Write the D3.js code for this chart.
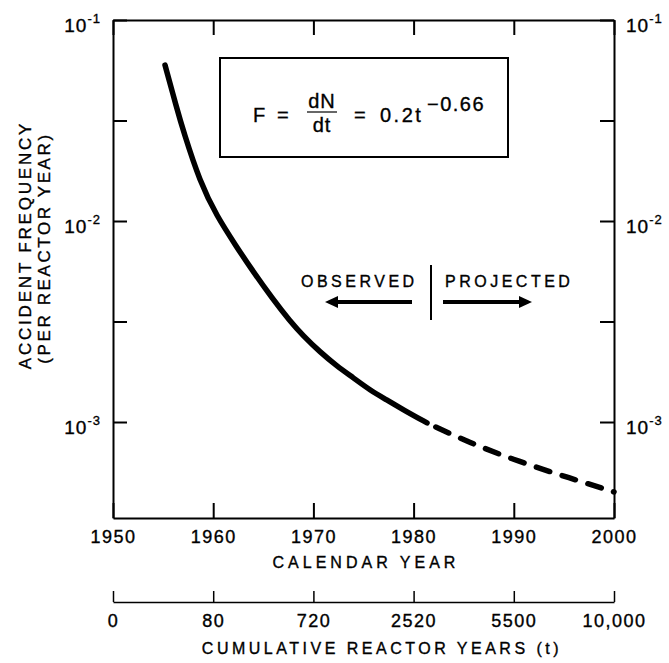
<!DOCTYPE html>
<html>
<head>
<meta charset="utf-8">
<script src="https://cdn.jsdelivr.net/npm/d3@7"></script>
<style>
body { margin: 0; background: #fff; }
text { font-family: "Liberation Sans", Arial, Helvetica, sans-serif; fill: #000; stroke: #000; stroke-width: 0.35px; }
</style>
</head>
<body>
<div id="chart"></div>
<script>
// values
var observedYears = [1955.19, 1956.36, 1957.02, 1958.68, 1960.35, 1962.35, 1963.67, 1966.0, 1967.66, 1968.99, 1970.66, 1972.33, 1973.98, 1975.65, 1977.32, 1978.97, 1981.34];
var observedFreq  = [0.0597, 0.0365, 0.0280, 0.01563, 0.01059, 0.00743, 0.00590, 0.00405, 0.00318, 0.00268, 0.00223, 0.00190, 0.00166, 0.00144, 0.00129, 0.00115, 0.00099];
var projectedYears = [1981.34, 1985.6, 1990.6, 1995.6, 2000];
var projectedFreq  = [0.00099, 0.000787, 0.000633, 0.000526, 0.000449];

var decadeYears = [1950, 1960, 1970, 1980, 1990, 2000];
var cumulativeLabels = ["0", "80", "720", "2520", "5500", "10,000"];
var freqTicks = [1e-1, Math.pow(10, -1.5), 1e-2, Math.pow(10, -2.5), 1e-3];

var margin = {top: 20, right: 55, bottom: 145, left: 113},
	width = 669 - margin.left - margin.right,
	height = 663 - margin.top - margin.bottom;

var svg = d3.select("#chart").append("svg")
	.attr("width", 669)
	.attr("height", 663);

var g = svg.append("g")
	.attr("transform", "translate(" + margin.left + "," + margin.top + ")");

var x = d3.scaleLinear()
	.domain([1950, 2000])
	.range([0, width]);

var y = d3.scaleLog()
	.domain([3.33e-4, 0.1])
	.range([height, 0]);

function styleAxis(sel, size, spacing) {
	sel.attr("font-size", null).attr("font-family", null);
	sel.select(".domain").attr("stroke-width", 2);
	sel.selectAll(".tick line").attr("stroke-width", 2);
	sel.selectAll(".tick text")
		.style("font-size", size + "px")
		.style("letter-spacing", spacing + "px");
}

// power-of-ten labels with a raised exponent
function powerLabel(sel) {
	sel.selectAll(".tick text").each(function(d) {
		var e = Math.log10(d);
		var t = d3.select(this).text("").attr("dy", "0.6em");
		if (Math.abs(e - Math.round(e)) > 1e-6) return;
		t.append("tspan").text("10");
		t.append("tspan").attr("dy", -9).style("font-size", "13px").text(String(Math.round(e)));
	});
}

// bottom calendar axis
g.append("g")
	.attr("transform", "translate(0," + height + ")")
	.call(d3.axisBottom(x).tickValues(decadeYears).tickSizeInner(-15).tickSizeOuter(0).tickPadding(12).tickFormat(d3.format("d")))
	.call(styleAxis, 18, 1.5);

// top frame
g.append("g")
	.call(d3.axisTop(x).tickValues(decadeYears).tickSizeInner(-15).tickSizeOuter(0).tickFormat(""))
	.call(styleAxis, 18, 0);

// left & right frequency axes
g.append("g")
	.call(d3.axisLeft(y).tickValues(freqTicks).tickSizeInner(-14).tickSizeOuter(0).tickPadding(12))
	.call(styleAxis, 19, 1)
	.call(powerLabel);

g.append("g")
	.attr("transform", "translate(" + width + ",0)")
	.call(d3.axisRight(y).tickValues(freqTicks).tickSizeInner(-14).tickSizeOuter(0).tickPadding(12))
	.call(styleAxis, 19, 1)
	.call(powerLabel);

// cumulative reactor years axis
g.append("g")
	.attr("transform", "translate(0," + (height + 84) + ")")
	.call(d3.axisBottom(x).tickValues(decadeYears).tickSizeInner(-11).tickSizeOuter(0).tickPadding(12)
		.tickFormat(function(d, i) { return cumulativeLabels[i]; }))
	.call(styleAxis, 18, 1.5)
	.call(function(s) { s.select(".domain").attr("stroke-width", 1.5); s.selectAll(".tick line").attr("stroke-width", 1.5); });

// axis titles
svg.append("text")
	.attr("x", 366).attr("y", 568)
	.attr("text-anchor", "middle")
	.style("font-size", "16px").style("letter-spacing", "4px")
	.text("CALENDAR YEAR");

svg.append("text")
	.attr("x", 382).attr("y", 654)
	.attr("text-anchor", "middle")
	.style("font-size", "16px").style("letter-spacing", "3.5px")
	.text("CUMULATIVE REACTOR YEARS (t)");

svg.append("text")
	.attr("transform", "translate(31,245) rotate(-90)")
	.attr("text-anchor", "middle")
	.style("font-size", "17px").style("letter-spacing", "2.8px")
	.text("ACCIDENT FREQUENCY");

svg.append("text")
	.attr("transform", "translate(50,248) rotate(-90)")
	.attr("text-anchor", "middle")
	.style("font-size", "17px").style("letter-spacing", "2.6px")
	.text("(PER REACTOR YEAR)");

// curve
var line = d3.line()
	.x(function(d) { return x(d[0]); })
	.y(function(d) { return y(d[1]); })
	.curve(d3.curveBasis);

g.append("path")
	.datum(d3.zip(observedYears, observedFreq))
	.attr("d", line)
	.attr("fill", "none")
	.attr("stroke", "#000")
	.attr("stroke-width", 5.5)
	.attr("stroke-linecap", "round");

g.append("path")
	.datum(d3.zip(projectedYears, projectedFreq))
	.attr("d", line)
	.attr("fill", "none")
	.attr("stroke", "#000")
	.attr("stroke-width", 5.5)
	.attr("stroke-linecap", "round")
	.attr("stroke-dasharray", "14 13")
	.attr("stroke-dashoffset", 17);

// equation box
svg.append("rect")
	.attr("x", 220).attr("y", 58)
	.attr("width", 288).attr("height", 99)
	.attr("fill", "none").attr("stroke", "#000").attr("stroke-width", 2);

var eq = svg.append("g").style("font-size", "20px");
eq.append("text").attr("x", 253).attr("y", 122).text("F");
eq.append("text").attr("x", 277).attr("y", 122).text("=");
eq.append("text").attr("x", 322).attr("y", 108).attr("text-anchor", "middle").style("letter-spacing", "1px").text("dN");
eq.append("line").attr("x1", 307).attr("x2", 337).attr("y1", 112).attr("y2", 112).attr("stroke", "#000").attr("stroke-width", 1.2);
eq.append("text").attr("x", 322).attr("y", 132).attr("text-anchor", "middle").style("letter-spacing", "1px").text("dt");
eq.append("text").attr("x", 354).attr("y", 122).text("=");
eq.append("text").attr("x", 380).attr("y", 122).style("letter-spacing", "2.5px").text("0.2t");
eq.append("text").attr("x", 427).attr("y", 111).style("letter-spacing", "1.5px").text("\u22120.66");

// observed / projected marker
svg.append("line")
	.attr("x1", 431).attr("x2", 431).attr("y1", 265).attr("y2", 320)
	.attr("stroke", "#000").attr("stroke-width", 2);

svg.append("text").attr("x", 301).attr("y", 287)
	.style("font-size", "16px").style("letter-spacing", "3.5px").text("OBSERVED");
svg.append("text").attr("x", 445).attr("y", 287)
	.style("font-size", "16px").style("letter-spacing", "3.5px").text("PROJECTED");

svg.append("line").attr("x1", 412).attr("x2", 334).attr("y1", 302).attr("y2", 302)
	.attr("stroke", "#000").attr("stroke-width", 4);
svg.append("polygon").attr("points", "325,302 338,296 338,308").attr("fill", "#000");

svg.append("line").attr("x1", 443).attr("x2", 523).attr("y1", 302).attr("y2", 302)
	.attr("stroke", "#000").attr("stroke-width", 4);
svg.append("polygon").attr("points", "532,302 519,296 519,308").attr("fill", "#000");
</script>
</body>
</html>
